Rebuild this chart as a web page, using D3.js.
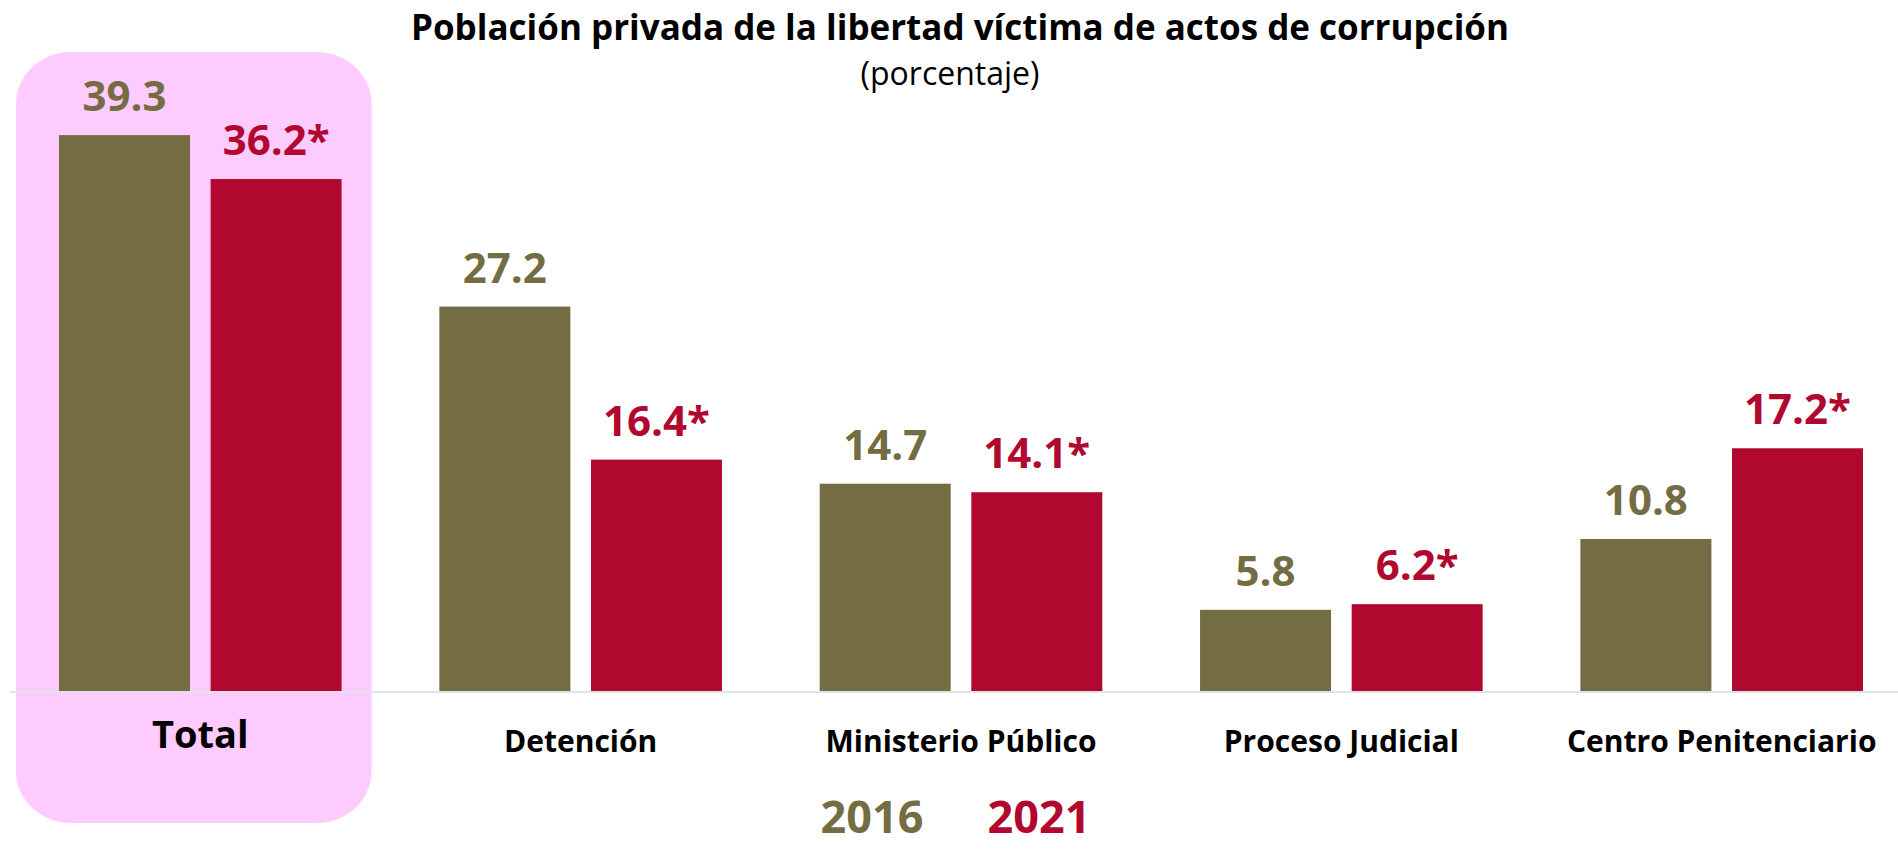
<!DOCTYPE html>
<html>
<head>
<meta charset="utf-8">
<script src="https://cdn.jsdelivr.net/npm/d3@7"></script>
<style>
  body { margin: 0; background: #fff; }
  text { font-family: "Open Sans", "Noto Sans", sans-serif; }
</style>
</head>
<body>
<div id="container"></div>
<script>
let categories = ['Total', 'Detención', 'Ministerio Público', 'Proceso Judicial', 'Centro Penitenciario'];
let years = ['2016', '2021'];
let values2016 = [39.3, 27.2, 14.7, 5.8, 10.8];
let values2021 = [36.2, 16.4, 14.1, 6.2, 17.2];
let labels2016 = ['39.3', '27.2', '14.7', '5.8', '10.8'];
let labels2021 = ['36.2*', '16.4*', '14.1*', '6.2*', '17.2*'];

let colors = { '2016': '#746C43', '2021': '#B1082F' };

let width = 1898;
let height = 849;
let baseY = 692;

let svg = d3.select('#container').append('svg')
    .attr('width', width).attr('height', height);

let xScale = d3.scaleBand()
    .domain(categories)
    .range([59, 1863])
    .paddingInner(0.257)
    .paddingOuter(0);

let xInner = d3.scaleBand()
    .domain(years)
    .range([0, xScale.bandwidth()])
    .paddingInner(0.136);

let yScale = d3.scaleLinear()
    .domain([0, 40])
    .range([baseY, baseY - 40 * 14.17]);

// highlight box behind Total
svg.append('rect')
    .attr('x', xScale('Total') - 43)
    .attr('y', 52)
    .attr('width', xScale.bandwidth() + 73)
    .attr('height', 771)
    .attr('rx', 55).attr('ry', 52)
    .attr('fill', '#FDCBFD');

// titles
svg.append('text')
    .attr('x', 960).attr('y', 40)
    .attr('text-anchor', 'middle')
    .attr('font-weight', 'bold')
    .attr('font-size', 35)
    .text('Población privada de la libertad víctima de actos de corrupción');

svg.append('text')
    .attr('x', 950).attr('y', 85)
    .attr('text-anchor', 'middle')
    .attr('font-size', 32)
    .text('(porcentaje)');

let rows = categories.map((c, i) => ({
    cat: c,
    vals: [
        { year: '2016', v: values2016[i], label: labels2016[i] },
        { year: '2021', v: values2021[i], label: labels2021[i] }
    ]
}));

let groups = svg.selectAll('.group')
    .data(rows).enter()
    .append('g').attr('class', 'group')
    .attr('transform', d => 'translate(' + xScale(d.cat) + ',0)');

groups.selectAll('rect')
    .data(d => d.vals).enter()
    .append('rect')
    .attr('x', d => xInner(d.year))
    .attr('y', d => yScale(d.v))
    .attr('width', xInner.bandwidth())
    .attr('height', d => yScale(0) - yScale(d.v))
    .attr('fill', d => colors[d.year]);

groups.selectAll('.value')
    .data(d => d.vals).enter()
    .append('text').attr('class', 'value')
    .attr('x', d => xInner(d.year) + xInner.bandwidth() / 2)
    .attr('y', d => yScale(d.v) - 24)
    .attr('text-anchor', 'middle')
    .attr('font-weight', 'bold')
    .attr('font-size', 42)
    .attr('fill', d => colors[d.year])
    .text(d => d.label);

// baseline
svg.append('line')
    .attr('x1', 10).attr('x2', width)
    .attr('y1', baseY).attr('y2', baseY)
    .attr('stroke', '#DDE3EA').attr('stroke-width', 2);

// category labels
groups.append('text')
    .attr('x', xScale.bandwidth() / 2)
    .attr('y', d => d.cat === 'Total' ? 748 : 752)
    .attr('text-anchor', 'middle')
    .attr('font-weight', 'bold')
    .attr('font-size', d => d.cat === 'Total' ? 38 : 30)
    .attr('fill', '#000')
    .text(d => d.cat);

// legend
let legendX = { '2016': 872, '2021': 1039 };
svg.selectAll('.legend')
    .data(years).enter()
    .append('text').attr('class', 'legend')
    .attr('x', d => legendX[d])
    .attr('y', 833)
    .attr('text-anchor', 'middle')
    .attr('font-weight', 'bold')
    .attr('font-size', 45)
    .attr('fill', d => colors[d])
    .text(d => d);
</script>
</body>
</html>
